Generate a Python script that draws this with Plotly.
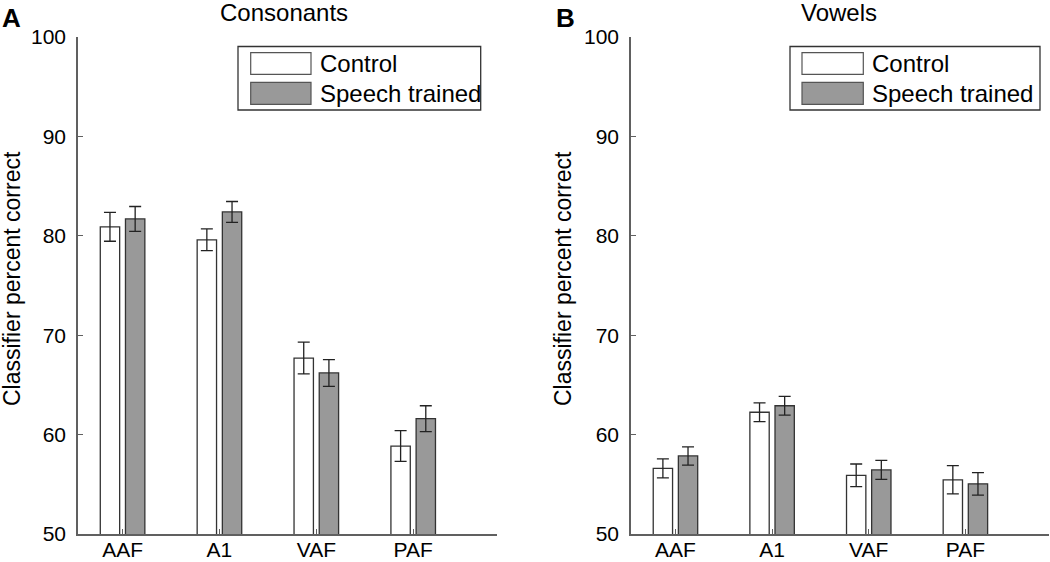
import plotly.graph_objects as go

W, H = 1050, 562

categories = ["AAF", "A1", "VAF", "PAF"]

# Consonants (panel A)
cons_control = [80.9, 79.6, 67.7, 58.85]
cons_control_err = [1.45, 1.1, 1.6, 1.55]
cons_speech = [81.7, 82.4, 66.2, 61.6]
cons_speech_err = [1.25, 1.05, 1.35, 1.3]

# Vowels (panel B)
vow_control = [56.6, 62.25, 55.9, 55.45]
vow_control_err = [0.95, 0.95, 1.14, 1.42]
vow_speech = [57.85, 62.9, 56.45, 55.05]
vow_speech_err = [0.92, 0.95, 0.95, 1.13]

series_names = ["Control", "Speech trained"]
panel_titles = ["Consonants", "Vowels"]
panel_letters = ["A", "B"]
y_title = "Classifier percent correct"
y_ticks = [50, 60, 70, 80, 90, 100]

FONT = "Liberation Sans, Arial, sans-serif"
CTRL_FILL = "#ffffff"
SPEECH_FILL = "#999999"
EDGE = "#333333"
AXIS = "#606060"
ERR = "#222222"

xpos = [1, 2, 3, 4]

fig = go.Figure()


def add_panel(ctrl, ctrl_err, sp, sp_err, xa, ya):
    for vals, errs, fill, off in [(ctrl, ctrl_err, CTRL_FILL, -0.23), (sp, sp_err, SPEECH_FILL, 0.03)]:
        fig.add_trace(go.Bar(
            x=xpos, y=vals, width=0.2, offset=off,
            marker=dict(color=fill, line=dict(color=EDGE, width=1.3)),
            error_y=dict(type="data", array=errs, visible=True, color=ERR, thickness=1.3, width=6),
            xaxis=xa, yaxis=ya, showlegend=False,
        ))


add_panel(cons_control, cons_control_err, cons_speech, cons_speech_err, "x", "y")
add_panel(vow_control, vow_control_err, vow_speech, vow_speech_err, "x2", "y2")


def px(x):
    return x / W


def py(y):
    return 1 - y / H


xaxis_common = dict(
    range=[0.54, 4.865], tickvals=xpos, ticktext=categories,
    ticks="inside", ticklen=5, tickcolor=AXIS, tickwidth=1,
    showline=True, linecolor=AXIS, linewidth=1.5, showgrid=False, zeroline=False,
    tickfont=dict(family=FONT, size=21, color="black"), ticklabelstandoff=-4,
    fixedrange=True, automargin=False,
)
yaxis_common = dict(
    range=[50, 100], tickvals=y_ticks,
    ticks="inside", ticklen=5, tickcolor=AXIS, tickwidth=1,
    showline=True, linecolor=AXIS, linewidth=1.5, showgrid=False, zeroline=False,
    tickfont=dict(family=FONT, size=21, color="black"), ticklabelstandoff=6,
    fixedrange=True, automargin=False,
)

y_dom = [py(534), py(37)]
fig.update_layout(
    width=W, height=H,
    margin=dict(l=0, r=0, t=0, b=0, autoexpand=False),
    paper_bgcolor="white", plot_bgcolor="white",
    barmode="overlay",
    xaxis=dict(domain=[px(78), px(497)], anchor="y", **xaxis_common),
    yaxis=dict(domain=y_dom, anchor="x", **yaxis_common),
    xaxis2=dict(domain=[px(631), px(1049)], anchor="y2", **xaxis_common),
    yaxis2=dict(domain=y_dom, anchor="x2", **yaxis_common),
    font=dict(family=FONT, color="black"),
)

annotations = []
shapes = []

# titles, letters, y-axis titles
for title, cx in zip(panel_titles, [284, 839]):
    annotations.append(dict(text=title, x=px(cx), y=py(12), xref="paper", yref="paper",
                            showarrow=False, xanchor="center", yanchor="middle",
                            font=dict(family=FONT, size=24, color="black")))
for letter, cx in zip(panel_letters, [11, 565]):
    annotations.append(dict(text="<b>" + letter + "</b>", x=px(cx), y=py(18), xref="paper", yref="paper",
                            showarrow=False, xanchor="center", yanchor="middle",
                            font=dict(family=FONT, size=26, color="black")))
for cx in [12, 563]:
    annotations.append(dict(text=y_title, x=px(cx), y=py(279), xref="paper", yref="paper",
                            showarrow=False, xanchor="center", yanchor="middle", textangle=-90,
                            font=dict(family=FONT, size=23, color="black")))

# legends
for box_l, box_r, sw_l, sw_r, txt_l in [(238, 480.7, 250.7, 311, 318), (790, 1040, 802, 863.3, 870)]:
    shapes.append(dict(type="rect", xref="paper", yref="paper",
                       x0=px(box_l), x1=px(box_r), y0=py(110), y1=py(46.5),
                       line=dict(color=EDGE, width=1.3), fillcolor="white", layer="above"))
    for name, fill, top, bot in [(series_names[0], CTRL_FILL, 52.7, 74.3), (series_names[1], SPEECH_FILL, 82.3, 104.3)]:
        shapes.append(dict(type="rect", xref="paper", yref="paper",
                           x0=px(sw_l), x1=px(sw_r), y0=py(bot), y1=py(top),
                           line=dict(color="#555555", width=1.2), fillcolor=fill, layer="above"))
        annotations.append(dict(text=name, x=px(txt_l), y=py((top + bot) / 2 + 0.5), xref="paper", yref="paper",
                                showarrow=False, xanchor="left", yanchor="middle",
                                font=dict(family=FONT, size=24, color="black")))

fig.update_layout(annotations=annotations, shapes=shapes)

# remove the default page margin so the figure fills the window exactly
fig.write_html("out.html", config={"displayModeBar": False},
               post_script="document.body.style.margin='0px';document.body.style.overflow='hidden';")
